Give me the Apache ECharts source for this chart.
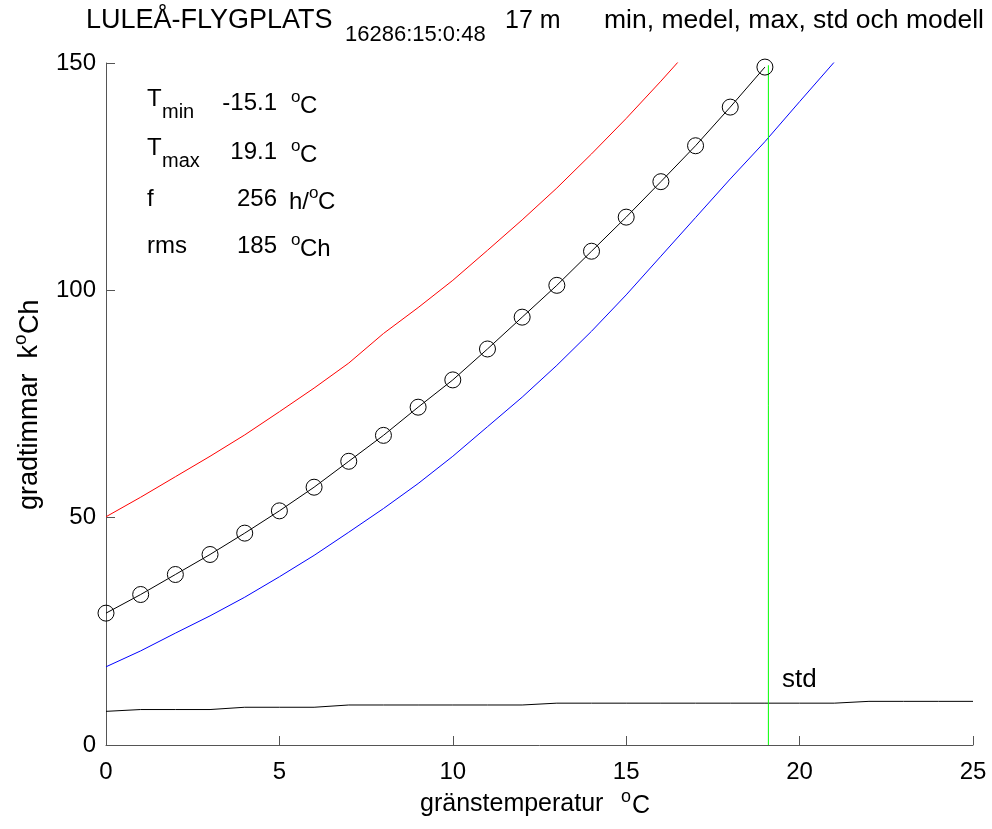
<!DOCTYPE html>
<html>
<head>
<meta charset="utf-8">
<script src="https://cdn.jsdelivr.net/npm/echarts@6/dist/echarts.min.js"></script>
<style>
html,body{margin:0;padding:0;background:#fff;}
#c{width:992px;height:829px;}
</style>
</head>
<body>
<div id="c"></div>
<script>
// ---- data ----
const modelX = [0,1,2,3,4,5,6,7,8,9,10,11,12,13,14,15,16,17,18,19];
const modelY = [29.0,33.1,37.5,41.9,46.6,51.5,56.7,62.4,68.1,74.3,80.3,87.1,94.1,101.1,108.6,116.1,123.9,131.8,140.3,149.1];
const maxX = [0,1,2,3,4,5,6,7,8,9,10,11,12,13,14,15,16,17];
const maxY = [50.2,54.5,59.0,63.5,68.2,73.3,78.5,84.0,90.5,96.2,102.2,108.8,115.5,122.5,130.0,137.8,146.0,154.5];
const minX = [0,1,2,3,4,5,6,7,8,9,10,11,12,13,14,15,16,17,18,19,20,21];
const minY = [17.2,20.7,24.6,28.4,32.5,37.0,41.7,46.8,52.0,57.5,63.5,70.0,76.5,83.5,91.0,99.0,107.5,116.0,124.5,132.7,141.5,150.2];
const stdX = [0,1,2,3,4,5,6,7,8,9,10,11,12,13,14,15,16,17,18,19,20,21,22,23,24,25];
const stdY = [7.4,7.8,7.8,7.8,8.3,8.3,8.3,8.8,8.8,8.8,8.8,8.8,8.8,9.2,9.2,9.2,9.2,9.2,9.2,9.2,9.2,9.2,9.6,9.6,9.6,9.6];
const tMax = 19.1;
const tMaxLineY = [0, 149.5];
const xTicks = [0,5,10,15,20,25];
const yTicks = [0,50,100,150];
const statLabels = ['min','max'];
const statValues = ['-15.1','19.1','256','185'];

const zip = (xs, ys) => xs.map((x, i) => [x, ys[i]]);
const FONT = '"Liberation Sans", Arial, Helvetica, sans-serif';

const chart = echarts.init(document.getElementById('c'), null, {renderer: 'canvas'});

function txt(text, x, y, size, align, extra) {
  return Object.assign({
    type: 'text', x: x, y: y, silent: true,
    style: {
      text: text, fill: '#000', font: size + 'px ' + FONT,
      textAlign: align || 'left', align: align || 'left',
      textVerticalAlign: 'middle', verticalAlign: 'middle'
    }
  }, extra || {});
}

const rows = [103, 152, 199, 246];
const B = 24, SUB = 20, SUP = 17;
const graphics = [
  // top title
  txt('LULEÅ-FLYGPLATS', 86, 21, 27),
  txt('16286:15:0:48', 345, 35, 22),
  txt('17 m', 505, 21, 25),
  txt('min, medel, max, std och modell', 604, 21, 26.5),
  // stats block
  txt('T', 147, rows[0] - 4, B),
  txt(statLabels[0], 162, rows[0] + 9, SUB),
  txt(statValues[0], 277, rows[0], B, 'right'),
  txt('o', 291, rows[0] - 6, SUP),
  txt('C', 300, rows[0] + 3, B),
  txt('T', 147, rows[1] - 4, B),
  txt(statLabels[1], 162, rows[1] + 9, SUB),
  txt(statValues[1], 277, rows[1], B, 'right'),
  txt('o', 291, rows[1] - 6, SUP),
  txt('C', 300, rows[1] + 3, B),
  txt('f', 147, rows[2], B),
  txt(statValues[2], 277, rows[2], B, 'right'),
  txt('h/', 289, rows[2] + 3, B),
  txt('o', 309, rows[2] - 6, SUP),
  txt('C', 318, rows[2] + 3, B),
  txt('rms', 147, rows[3], B),
  txt(statValues[3], 277, rows[3], B, 'right'),
  txt('o', 291, rows[3] - 6, SUP),
  txt('Ch', 300, rows[3] + 3, B),
  // std label
  txt('std', 782, 680, 26),
  // x axis title
  txt('gränstemperatur  ', 420, 804, 25),
  txt('o', 621, 797, 18),
  txt('C', 632, 806, 25),
  // y axis title (rotated)
  txt('gradtimmar  k', 0, 0, 27, 'left', {x: 30, y: 510, rotation: Math.PI / 2}),
  txt('o', 0, 0, 19, 'left', {x: 21, y: 345, rotation: Math.PI / 2}),
  txt('Ch', 0, 0, 27, 'left', {x: 31, y: 334, rotation: Math.PI / 2})
];

const option = {
  animation: false,
  backgroundColor: '#fff',
  grid: {left: 106, right: 19, top: 63, bottom: 84, containLabel: false},
  xAxis: {
    type: 'value', min: 0, max: 25, interval: 5,
    axisLine: {lineStyle: {color: '#555', width: 1}},
    axisTick: {inside: true, length: 9, lineStyle: {color: '#555'}},
    axisLabel: {color: '#000', fontSize: 24, fontFamily: FONT, margin: 15,
      formatter: v => xTicks.includes(v) ? String(v) : ''},
    splitLine: {show: false}
  },
  yAxis: {
    type: 'value', min: 0, max: 150, interval: 50,
    axisLine: {show: true, lineStyle: {color: '#555', width: 1}},
    axisTick: {show: true, inside: true, length: 9, lineStyle: {color: '#555'}},
    axisLabel: {color: '#000', fontSize: 24, fontFamily: FONT, margin: 10,
      formatter: v => yTicks.includes(v) ? String(v) : ''},
    splitLine: {show: false}
  },
  series: [
    {type: 'line', name: 'max', data: zip(maxX, maxY), showSymbol: false, symbol: 'none',
      lineStyle: {color: '#ff0000', width: 1}, clip: true, z: 2},
    {type: 'line', name: 'min', data: zip(minX, minY), showSymbol: false, symbol: 'none',
      lineStyle: {color: '#0000ff', width: 1}, clip: true, z: 2},
    {type: 'line', name: 'std', data: zip(stdX, stdY), showSymbol: false, symbol: 'none',
      lineStyle: {color: '#000', width: 1}, z: 2},
    {type: 'line', name: 'Tmax', data: tMaxLineY.map(v => [tMax, v]), showSymbol: false, symbol: 'none',
      lineStyle: {color: '#00ff00', width: 1}, z: 3},
    {type: 'line', name: 'modell', data: zip(modelX, modelY), symbol: 'circle', symbolSize: 16,
      itemStyle: {color: 'rgba(0,0,0,0)', borderColor: '#000', borderWidth: 1},
      lineStyle: {color: '#000', width: 1}, clip: false, z: 4}
  ],
  graphic: graphics
};
chart.setOption(option);
</script>
</body>
</html>
